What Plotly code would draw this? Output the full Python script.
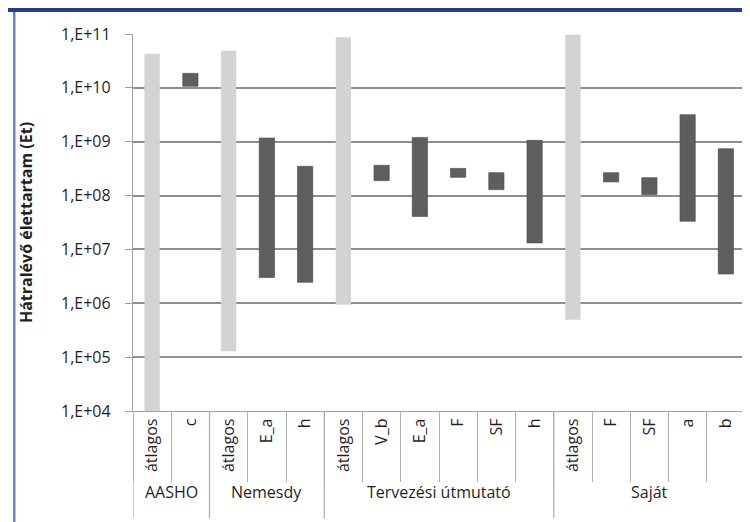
import plotly.graph_objects as go

groups = ["AASHO", "AASHO", "Nemesdy", "Nemesdy", "Nemesdy",
          "Tervezési útmutató", "Tervezési útmutató", "Tervezési útmutató",
          "Tervezési útmutató", "Tervezési útmutató", "Tervezési útmutató",
          "Saját", "Saját", "Saját", "Saját", "Saját"]
categories = ["átlagos", "c", "átlagos", "E_a", "h",
              "átlagos", "V_b", "E_a", "F", "SF", "h",
              "átlagos", "F", "SF", "a", "b"]
low_values = [1.0e4, 1.07e10, 1.29e5, 3.0e6, 2.45e6,
              9.4e5, 1.89e8, 4.1e7, 2.18e8, 1.29e8, 1.32e7,
              4.97e5, 1.79e8, 1.04e8, 3.33e7, 3.5e6]
high_values = [4.3e10, 1.86e10, 4.9e10, 1.17e9, 3.49e8,
               8.7e10, 3.65e8, 1.2e9, 3.2e8, 2.66e8, 1.06e9,
               9.7e10, 2.66e8, 2.15e8, 3.18e9, 7.43e8]
y_tick_values = [1e4, 1e5, 1e6, 1e7, 1e8, 1e9, 1e10, 1e11]
y_tick_labels = ["1,E+04", "1,E+05", "1,E+06", "1,E+07", "1,E+08",
                 "1,E+09", "1,E+10", "1,E+11"]
y_title = "Hátralévő élettartam (Et)"

FONT = "Open Sans"
TXT = "#1f1f1f"
GRID = "#8e8e8e"
W, H = 750, 522
ML, MR, MT, MB = 125, 13, 26, 119
plot_h = H - MT - MB
plot_w = W - ML - MR

def py(pix):  # page y pixel -> paper y
    return (H - MB - pix) / plot_h

def px(pix):  # page x pixel -> paper x
    return (pix - ML) / plot_w

positions = list(range(len(categories)))
avg_idx = [i for i, c in enumerate(categories) if c == "átlagos"]
oth_idx = [i for i, c in enumerate(categories) if c != "átlagos"]

fig = go.Figure()
fig.add_trace(go.Bar(
    x=[positions[i] for i in avg_idx],
    base=[low_values[i] for i in avg_idx],
    y=[high_values[i] - low_values[i] for i in avg_idx],
    width=0.4, marker=dict(color="#d3d3d3", line=dict(width=0)),
    showlegend=False))
fig.add_trace(go.Bar(
    x=[positions[i] for i in oth_idx],
    base=[low_values[i] for i in oth_idx],
    y=[high_values[i] - low_values[i] for i in oth_idx],
    width=0.4, marker=dict(color="#5e5e5e", line=dict(width=0.6, color="#4a4a4a")),
    showlegend=False))

# group dividers and labels
group_names = []
group_bounds = []
for i, g in enumerate(groups):
    if not group_names or group_names[-1] != g:
        group_names.append(g)
        group_bounds.append([i, i])
    else:
        group_bounds[-1][1] = i

shapes = []
annotations = []
div_x = [-0.5] + [b[1] + 0.5 for b in group_bounds]
for xv in div_x:
    shapes.append(dict(type="line", xref="x", yref="paper", x0=xv, x1=xv,
                       y0=0, y1=py(510), line=dict(color="#b0b0b0", width=1.3)))
for name, (a, b) in zip(group_names, group_bounds):
    annotations.append(dict(text=name, x=(a + b) / 2, xref="x", y=py(484), yref="paper",
                            showarrow=False, font=dict(family=FONT, size=16, color=TXT),
                            xanchor="center", yanchor="middle"))

# blue frame
shapes.append(dict(type="rect", xref="paper", yref="paper", x0=px(0), x1=px(W),
                   y0=py(4), y1=py(0), line=dict(width=0), fillcolor="#2c3a8b", layer="above"))
shapes.append(dict(type="rect", xref="paper", yref="paper", x0=px(5), x1=px(7.5),
                   y0=py(H), y1=py(4), line=dict(width=0), fillcolor="#6f80c2", layer="above"))

fig.update_layout(
    width=W, height=H,
    margin=dict(l=ML, r=MR, t=MT, b=MB),
    paper_bgcolor="white", plot_bgcolor="white",
    barmode="overlay",
    shapes=shapes, annotations=annotations,
    font=dict(family=FONT, size=16, color=TXT),
)
fig.update_xaxes(
    range=[-0.5, len(categories) - 0.5],
    tickmode="array", tickvals=positions, ticktext=categories,
    tickangle=-90, ticks="", showgrid=False, zeroline=False,
    showline=True, linecolor="#a0a0a0", linewidth=1.3,
    tickfont=dict(family=FONT, size=16, color=TXT),
    minor=dict(ticks="outside", tick0=-0.5, dtick=1, ticklen=70,
               tickcolor="#b0b0b0", tickwidth=1.3, showgrid=False),
    fixedrange=True,
)
fig.update_yaxes(
    type="log", range=[4, 11],
    tickmode="array", tickvals=y_tick_values, ticktext=y_tick_labels,
    ticks="outside", ticklen=7, tickcolor="#a0a0a0", tickwidth=1.3,
    ticklabelstandoff=11,
    showgrid=True, gridcolor=GRID, gridwidth=1.6,
    showline=True, linecolor="#a0a0a0", linewidth=1.3,
    tickfont=dict(family=FONT, size=16, color=TXT),
    title=dict(text="<b>" + y_title + "</b>", standoff=24,
               font=dict(family=FONT, size=16, color=TXT)),
    zeroline=False, automargin=False,
)
fig.write_html("out.html")
